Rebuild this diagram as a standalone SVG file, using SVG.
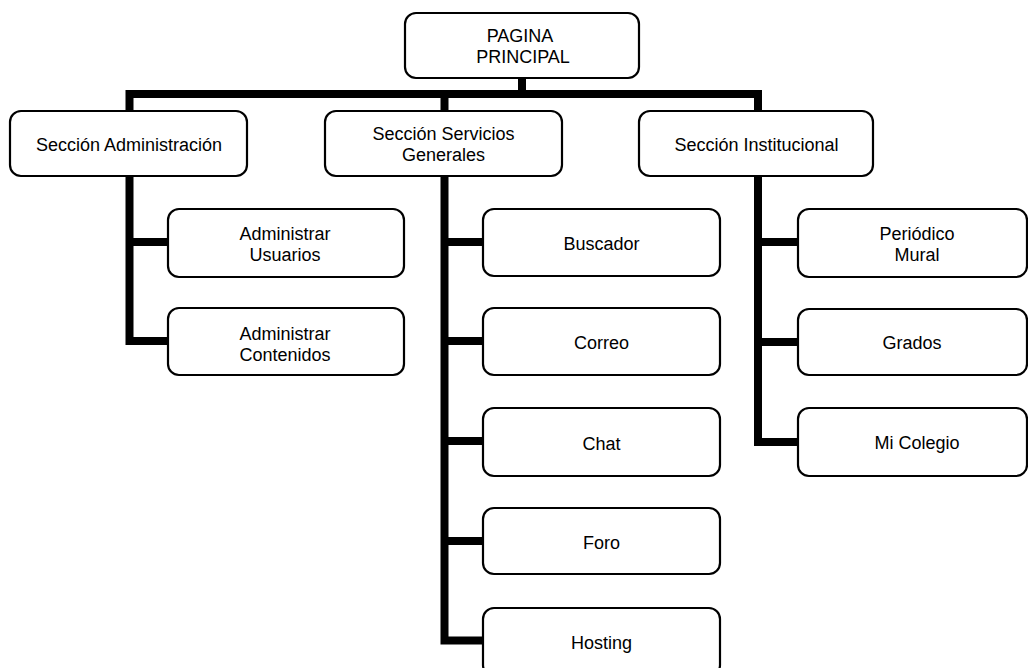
<svg xmlns="http://www.w3.org/2000/svg" width="1028" height="668" viewBox="0 0 1028 668">
<style>
.box{fill:#fff;stroke:#000;stroke-width:2.2}
.ln{fill:none;stroke:#000;stroke-width:8;stroke-linejoin:miter;stroke-linecap:butt}
text{font-family:"Liberation Sans",Arial,sans-serif;font-size:18px;fill:#000;text-anchor:middle}
</style>
<rect width="1028" height="668" fill="#fff"/>
<g id="connectors">
<path class="ln" d="M522 78V94"/>
<path class="ln" d="M129.5 111V94H758V111"/>
<path class="ln" d="M444.5 94V111"/>
<path class="ln" d="M129.5 176V341H168"/>
<path class="ln" d="M129.5 242H168"/>
<path class="ln" d="M444.5 176V640.5H483"/>
<path class="ln" d="M444.5 242H483M444.5 341H483M444.5 441H483M444.5 541H483"/>
<path class="ln" d="M758 176V442H798"/>
<path class="ln" d="M758 242H798M758 342H798"/>
</g>
<g id="root"><rect class="box" x="405" y="13" width="234" height="65" rx="11"/><text x="520" y="42">PAGINA</text><text x="523" y="63">PRINCIPAL</text></g>
<g id="sec-admin"><rect class="box" x="10" y="111" width="237" height="65" rx="11"/><text x="129" y="151">Sección Administración</text></g>
<g id="sec-serv"><rect class="box" x="325" y="111" width="237" height="65" rx="11"/><text x="443.5" y="140">Sección Servicios</text><text x="443.5" y="161">Generales</text></g>
<g id="sec-inst"><rect class="box" x="639" y="111" width="234" height="65" rx="11"/><text x="756.5" y="151">Sección Institucional</text></g>
<g id="adm-usuarios"><rect class="box" x="168" y="209" width="236" height="68" rx="11"/><text x="285" y="240">Administrar</text><text x="285" y="261">Usuarios</text></g>
<g id="adm-contenidos"><rect class="box" x="168" y="308" width="236" height="67" rx="11"/><text x="285" y="340">Administrar</text><text x="285" y="361">Contenidos</text></g>
<g id="buscador"><rect class="box" x="483" y="209" width="237" height="67" rx="11"/><text x="601.5" y="250">Buscador</text></g>
<g id="correo"><rect class="box" x="483" y="308" width="237" height="67" rx="11"/><text x="601.5" y="349">Correo</text></g>
<g id="chat"><rect class="box" x="483" y="408" width="237" height="68" rx="11"/><text x="601.5" y="449.5">Chat</text></g>
<g id="foro"><rect class="box" x="483" y="508" width="237" height="66" rx="11"/><text x="601.5" y="548.5">Foro</text></g>
<g id="hosting"><rect class="box" x="483" y="608" width="237" height="68" rx="11"/><text x="601.5" y="649">Hosting</text></g>
<g id="periodico"><rect class="box" x="798" y="209" width="229" height="68" rx="11"/><text x="917" y="240">Periódico</text><text x="917" y="261">Mural</text></g>
<g id="grados"><rect class="box" x="798" y="309" width="229" height="66" rx="11"/><text x="912" y="349">Grados</text></g>
<g id="micolegio"><rect class="box" x="798" y="408" width="229" height="68" rx="11"/><text x="917" y="449">Mi Colegio</text></g>
</svg>
